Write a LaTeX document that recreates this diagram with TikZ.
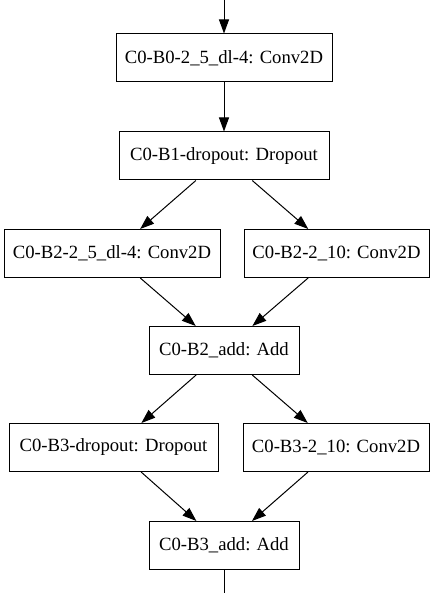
\documentclass[tikz,border=0pt]{standalone}
\usepackage{fontspec}
\setmainfont{Liberation Serif}
\newfontfamily\tmsfont{Liberation Serif}
\usetikzlibrary{arrows.meta}
\begin{document}
\begin{tikzpicture}[x=1pt,y=-1pt,
  box/.style={draw,line width=1pt,inner sep=0pt,minimum height=48pt,font=\tmsfont\fontsize{18.67}{22}\selectfont},
  edge/.style={line width=1pt,-{Triangle[length=14pt,width=10pt]}}]
\useasboundingbox (0,0) rectangle (436,593);
\coordinate (top) at (224,0);
\coordinate (bot) at (224,593);
\node[box,minimum width=216pt] (b0) at (224,58) {C0-B0-2\_5\_dl-4: Conv2D};
\node[box,minimum width=210pt] (b1) at (224,156) {C0-B1-dropout: Dropout};
\node[box,minimum width=216pt] (b2a) at (112,253.5) {C0-B2-2\_5\_dl-4: Conv2D};
\node[box,minimum width=185pt] (b2b) at (336.5,253.5) {C0-B2-2\_10: Conv2D};
\node[box,minimum width=150pt] (add2) at (224,350.5) {C0-B2\_add: Add};
\node[box,minimum width=209pt] (b3a) at (113.5,447.5) {C0-B3-dropout: Dropout};
\node[box,minimum width=186pt] (b3b) at (336,447.5) {C0-B3-2\_10: Conv2D};
\node[box,minimum width=150pt] (add3) at (224,545.5) {C0-B3\_add: Add};
\draw[edge] (top) -- (b0);
\draw[edge] (b0) -- (b1);
\draw[edge] (b1) -- (b2a);
\draw[edge] (b1) -- (b2b);
\draw[edge] (b2a) -- (add2);
\draw[edge] (b2b) -- (add2);
\draw[edge] (add2) -- (b3a);
\draw[edge] (add2) -- (b3b);
\draw[edge] (b3a) -- (add3);
\draw[edge] (b3b) -- (add3);
\draw[line width=1pt] (add3) -- (bot);
\end{tikzpicture}
\end{document}
